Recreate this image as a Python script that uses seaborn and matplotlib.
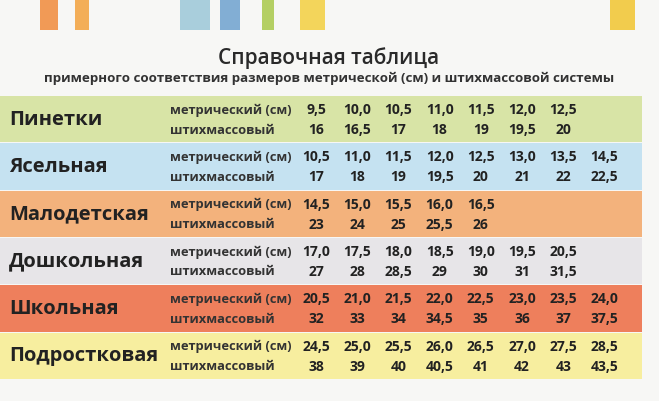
import matplotlib
matplotlib.use("Agg")
import matplotlib.pyplot as plt
import seaborn as sns

sns.set_theme(style="white", font="Open Sans")

# Data
categories = ["Пинетки", "Ясельная", "Малодетская", "Дошкольная", "Школьная", "Подростковая"]
metric_cm = [
    ["9,5", "10,0", "10,5", "11,0", "11,5", "12,0", "12,5"],
    ["10,5", "11,0", "11,5", "12,0", "12,5", "13,0", "13,5", "14,5"],
    ["14,5", "15,0", "15,5", "16,0", "16,5"],
    ["17,0", "17,5", "18,0", "18,5", "19,0", "19,5", "20,5"],
    ["20,5", "21,0", "21,5", "22,0", "22,5", "23,0", "23,5", "24,0"],
    ["24,5", "25,0", "25,5", "26,0", "26,5", "27,0", "27,5", "28,5"],
]
stich = [
    ["16", "16,5", "17", "18", "19", "19,5", "20"],
    ["17", "18", "19", "19,5", "20", "21", "22", "22,5"],
    ["23", "24", "25", "25,5", "26"],
    ["27", "28", "28,5", "29", "30", "31", "31,5"],
    ["32", "33", "34", "34,5", "35", "36", "37", "37,5"],
    ["38", "39", "40", "40,5", "41", "42", "43", "43,5"],
]
row_labels = ["метрический (см)", "штихмассовый"]
band_colors = ["#d8e4a6", "#c5e2f1", "#f3b27c", "#e7e5e8", "#ee7f5c", "#f7ee9f"]

fig = plt.figure(figsize=(6.59, 4.01), dpi=100)
ax = fig.add_axes([0, 0, 1, 1])
ax.set_xlim(0, 659)
ax.set_ylim(401, 0)
ax.axis("off")
fig.patch.set_facecolor("#f7f7f5")

# decorative splashes at top
for x0, w, c in [(40, 18, "#f08a3a"), (75, 14, "#f3a13c"), (180, 30, "#9cc7d8"),
                 (220, 20, "#6ea2cf"), (262, 12, "#a9c84a"), (300, 25, "#f3d040"),
                 (610, 25, "#f2c530")]:
    ax.add_patch(plt.Rectangle((x0, 0), w, 30, color=c, alpha=0.85, lw=0))

ax.text(329, 58, "Справочная таблица", ha="center", va="center", fontsize=15,
        fontweight="semibold", color="#2a2a2a")
ax.text(329, 78, "примерного соответствия размеров метрической (см) и штихмассовой системы",
        ha="center", va="center", fontsize=9.6, color="#333333", fontweight="bold")

top, h = 96, 47.3
col0, dx = 316, 41.2
for i, cat in enumerate(categories):
    y0 = top + i * h
    ax.add_patch(plt.Rectangle((0, y0), 642, h - 1, color=band_colors[i], lw=0))
    ax.text(9, y0 + h / 2, cat, ha="left", va="center", fontsize=14.5,
            fontweight="bold", color="#222222")
    for r, vals in enumerate([metric_cm[i], stich[i]]):
        yy = y0 + h * (0.3 if r == 0 else 0.72)
        ax.text(170, yy, row_labels[r], ha="left", va="center", fontsize=9.3,
                fontweight="bold", color="#333333")
        for j, v in enumerate(vals):
            ax.text(col0 + j * dx, yy, v, ha="center", va="center", fontsize=10,
                    fontweight="bold", color="#222222")

fig.savefig("out.png", dpi=100, facecolor=fig.get_facecolor())
